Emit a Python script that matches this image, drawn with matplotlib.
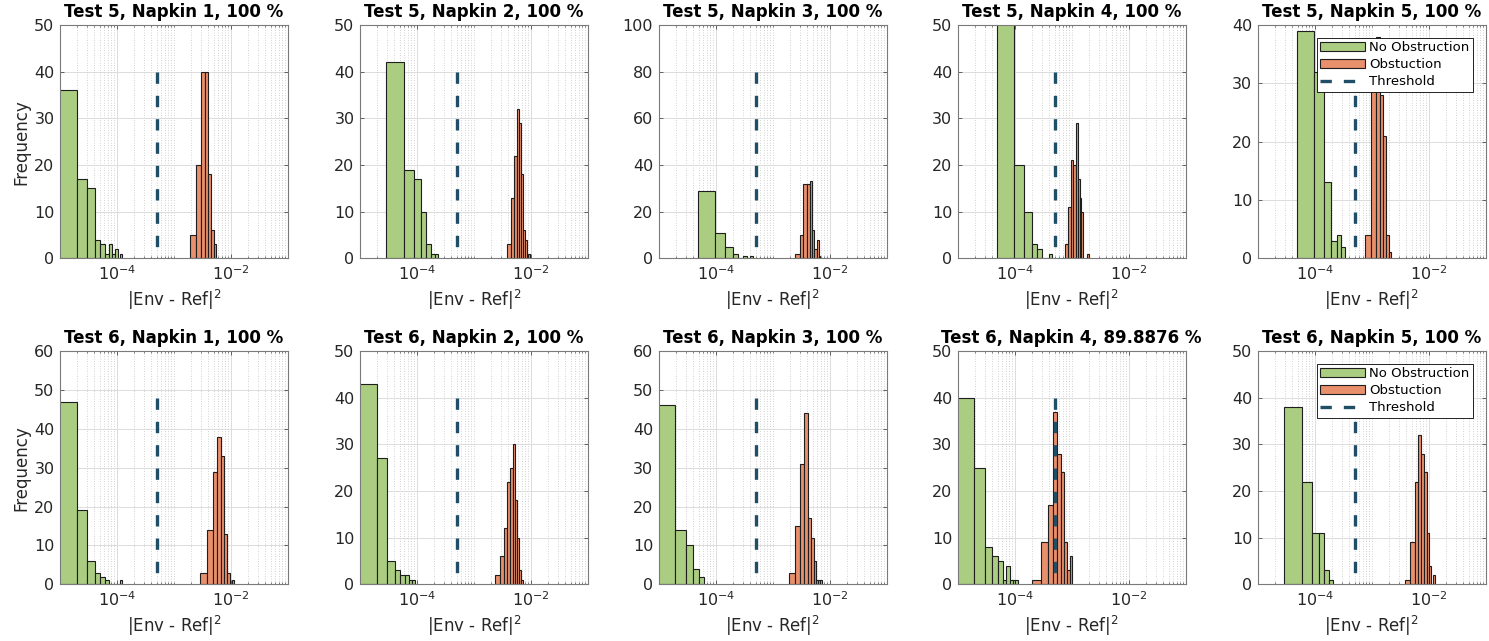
import numpy as np
import matplotlib
matplotlib.use('Agg')
from matplotlib import pyplot as plt
from matplotlib.ticker import FixedLocator, LogLocator, LogFormatterSciNotation, NullFormatter

# panel order: Test 5 napkin 1..5, then Test 6 napkin 1..5
tests = [5, 5, 5, 5, 5, 6, 6, 6, 6, 6]
napkins = [1, 2, 3, 4, 5, 1, 2, 3, 4, 5]
accuracy = ['100', '100', '100', '100', '100', '100', '100', '100', '89.8876', '100']

# no obstruction histograms (linear bins: first edge, bin width, counts)
green_start = [0.92e-5, 2.9e-5, 4.83e-5, 4.9e-5, 4.83e-5, 0.92e-5, 0.92e-5, 0.92e-5, 0.92e-5, 2.94e-5]
green_width = [1.04e-5, 2.9e-5, 5.0e-5, 4.95e-5, 4.9e-5, 1.04e-5, 1.04e-5, 1.04e-5, 1.04e-5, 2.95e-5]
green_counts = [
    [36, 17, 15, 4, 3, 1, 3, 1, 2, 0, 1],
    [42, 19, 17, 10, 3, 1, 1],
    [29, 11, 5, 2, 0, 1, 0, 1],
    [52, 20, 10, 3, 2, 0, 0, 1],
    [39, 32, 13, 3, 4, 2],
    [47, 19, 6, 3, 2, 1, 0, 0, 0, 0, 1],
    [43, 27, 5, 3, 2, 2, 1, 1],
    [46, 14, 10, 4, 2],
    [40, 25, 8, 6, 5, 1, 4, 1, 1, 1],
    [38, 22, 11, 11, 3, 1],
]

# obstruction histograms
orange_start = [1.91e-3, 3.85e-3, 2.50e-3, 7.74e-4, 7.54e-4, 2.86e-3, 2.34e-3, 1.94e-3, 2.0e-4, 3.84e-3]
orange_width = [0.51e-3, 0.575e-3, 0.485e-3, 1.0e-4, 2.1e-4, 0.95e-3, 0.48e-3, 0.55e-3, 0.9e-4, 0.9e-3]
orange_counts = [
    [5, 20, 40, 40, 18, 6, 3],
    [3, 13, 22, 32, 29, 18, 6, 4, 0, 1],
    [2, 10, 32, 32, 33, 12, 4, 8, 1],
    [3, 11, 21, 20, 29, 17, 13, 10, 0, 0, 0, 1],
    [4, 29, 38, 28, 21, 4, 1],
    [3, 14, 29, 38, 33, 13, 3, 0, 1],
    [2, 6, 12, 22, 25, 30, 18, 10, 3, 1],
    [3, 15, 31, 44, 17, 12, 6, 1, 1, 1],
    [1, 9, 17, 37, 28, 24, 9, 3, 6],
    [1, 9, 22, 32, 28, 24, 11, 4, 0, 2],
]

threshold = [5e-4] * 10
thresh_top = [40, 40, 80, 40, 32, 48, 40, 48, 40, 40]
ymax = [50, 50, 100, 50, 40, 60, 50, 60, 50, 50]
ystep = [10, 10, 20, 10, 10, 10, 10, 10, 10, 10]

c_green = '#abcd82'
c_orange = '#e88f6b'
c_thr = '#1f4e66'
c_txt = '#262626'

W, H = 1489, 641
fig = plt.figure(figsize=(W / 100, H / 100), dpi=100)
plt.rcParams['font.family'] = 'DejaVu Sans'

col_left = [60, 360, 658.7, 957.7, 1257.7]
row_bottom = [258.3, 584.3]
ax_w, ax_h = 228, 233.3

for i in range(10):
    r, c = divmod(i, 5)
    ax = fig.add_axes([col_left[c] / W, 1 - row_bottom[r] / H, ax_w / W, ax_h / H])
    ax.set_xscale('log')

    ge = green_start[i] + green_width[i] * np.arange(len(green_counts[i]) + 1)
    oe = orange_start[i] + orange_width[i] * np.arange(len(orange_counts[i]) + 1)
    ax.hist(ge[:-1] + green_width[i] / 2, bins=ge, weights=green_counts[i],
            color=c_green, edgecolor='#1e1e1e', linewidth=0.8, label='No Obstruction')
    ax.hist(oe[:-1] + orange_width[i] / 2, bins=oe, weights=orange_counts[i],
            color=c_orange, edgecolor='#1e1e1e', linewidth=0.8, label='Obstuction')
    ax.plot([threshold[i], threshold[i]], [thresh_top[i], 0], color=c_thr,
            linewidth=2.4, dashes=(3.4, 3.6), dash_capstyle='butt', label='Threshold')

    ax.set_xlim(1e-5, 1e-1)
    ax.set_ylim(0, ymax[i])
    ax.set_yticks(np.arange(0, ymax[i] + 1, ystep[i]))
    ax.xaxis.set_major_locator(FixedLocator([1e-4, 1e-2]))
    ax.xaxis.set_major_formatter(LogFormatterSciNotation())
    ax.xaxis.set_minor_locator(LogLocator(base=10, subs=np.arange(1, 10), numticks=20))
    ax.xaxis.set_minor_formatter(NullFormatter())

    ax.set_axisbelow(True)
    ax.grid(True, which='major', color='#dcdcdc', linewidth=0.7)
    ax.grid(True, which='minor', axis='x', color='#c4c4c4', linewidth=0.6, linestyle=(0, (1, 2)))
    ax.tick_params(which='both', direction='in', top=True, right=True, colors='#4d4d4d',
                   labelcolor=c_txt, labelsize=11.5)
    ax.tick_params(which='major', length=3, width=0.6, pad=4)
    ax.tick_params(which='minor', length=1.5, width=0.5)
    for s in ax.spines.values():
        s.set_color('#7a7a7a')
        s.set_linewidth(0.8)

    ax.set_title(f'Test {tests[i]}, Napkin {napkins[i]}, {accuracy[i]} %',
                 fontsize=12, fontweight='bold', pad=5.5)
    ax.set_xlabel('|Env - Ref|$^2$', fontsize=12, color=c_txt, labelpad=4)
    if c == 0:
        ax.set_ylabel('Frequency', fontsize=12, color=c_txt, labelpad=3)
    if c == 4:
        leg = ax.legend(loc='upper right', fontsize=9.5, frameon=True, fancybox=False,
                        framealpha=1, edgecolor='black', borderpad=0.25, labelspacing=0.3,
                        handlelength=3.4, handletextpad=0.3, borderaxespad=1.0)
        leg.get_frame().set_linewidth(0.6)

fig.savefig('out.png', dpi=100)
